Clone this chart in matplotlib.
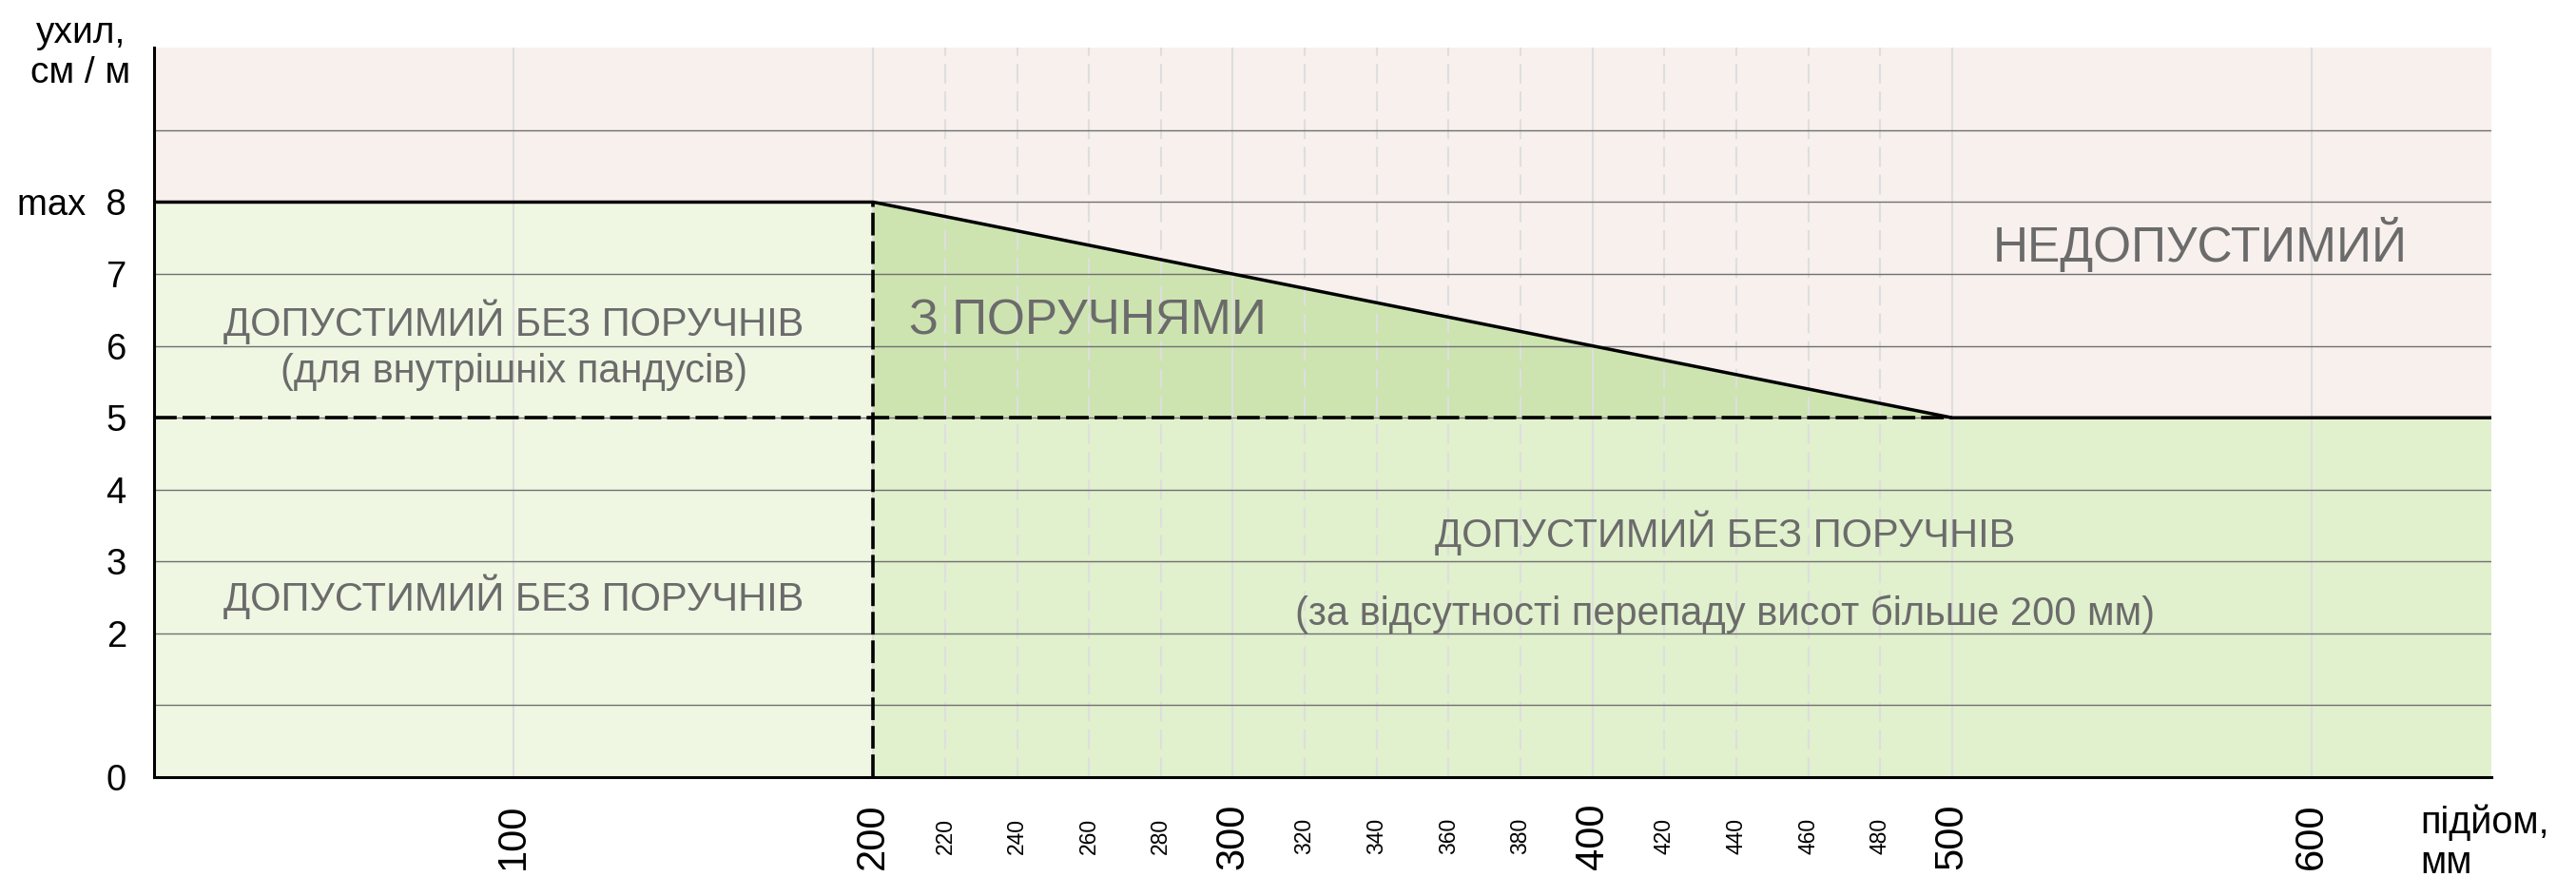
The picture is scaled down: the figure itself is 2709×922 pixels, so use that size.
import matplotlib

matplotlib.use("Agg")

import matplotlib.pyplot as plt

plt.rcParams["font.family"] = ["Liberation Sans", "DejaVu Sans"]

# limit line: max slope (cm/m) against rise (mm)
rise_mm = [0, 200, 500, 650]
max_slope = [8, 8, 5, 5]
base_slope = 5

y_grid = [1, 2, 3, 4, 5, 6, 7, 8, 9]
y_ticks = [0, 2, 3, 4, 5, 6, 7, 8]
y_labels = ["0", "2", "3", "4", "5", "6", "7", "max  8"]
x_major = [100, 200, 300, 400, 500, 600]
x_minor = [220, 240, 260, 280, 320, 340, 360, 380, 420, 440, 460, 480]

PINK = "#f7f0ed"
LIGHT_GREEN = "#eff7e3"
MID_GREEN = "#e1f0cd"
DARK_GREEN = "#cde4b1"
TEXT_GRAY = "#6b6b6b"

fig = plt.figure(figsize=(27.09, 9.22), dpi=100)
ax = fig.add_axes([162 / 2709, 105 / 922, 2458 / 2709, 767 / 922])
ax.set_facecolor(PINK)
ax.set_xlim(rise_mm[0], rise_mm[-1])
ax.set_ylim(0, 10.15)

# zones
ax.fill_between(rise_mm[:2], 0, max_slope[:2], color=LIGHT_GREEN, lw=0, zorder=0.2)
ax.fill_between([rise_mm[1], rise_mm[-1]], 0, base_slope, color=MID_GREEN, lw=0, zorder=0.2)
ax.fill_between(rise_mm[1:3], base_slope, max_slope[1:3], color=DARK_GREEN, lw=0, zorder=0.2)

# grid
ax.set_axisbelow(True)
ax.set_xticks(x_major)
ax.set_xticks(x_minor, minor=True)
ax.set_xticklabels([str(v) for v in x_major])
ax.set_xticklabels([str(v) for v in x_minor], minor=True)
ax.grid(axis="x", which="major", color="#dedede", lw=1.5)
ax.grid(axis="x", which="minor", color="#dedede", lw=1.5, linestyle=(0, (10, 4)))
for level in y_grid:
    ax.axhline(level, color="#707070", lw=1.0, zorder=0.6)

ax.set_yticks(y_ticks)
ax.set_yticklabels(y_labels)

# limits
ax.vlines(rise_mm[1], 0, max_slope[1], color="black", lw=2.6, linestyle=(0, (6.6, 1.7)), zorder=2.5)
ax.hlines(base_slope, 0, rise_mm[2], color="black", lw=2.6, linestyle=(0, (6.6, 1.7)), zorder=2.5)
ax.plot(rise_mm, max_slope, color="black", lw=2.5, zorder=3, solid_capstyle="butt")

for side in ("top", "right"):
    ax.spines[side].set_visible(False)
for side in ("left", "bottom"):
    ax.spines[side].set_linewidth(2.2)
    ax.spines[side].set_zorder(4)

ax.tick_params(axis="y", length=0, pad=21, labelsize=27.5)
ax.tick_params(axis="x", which="major", length=0, pad=44.6, labelsize=30, labelrotation=90)
ax.tick_params(axis="x", which="minor", length=0, pad=44.6, labelsize=16.5, labelrotation=90)
for lbl in ax.get_xticklabels(which="both"):
    lbl.set_verticalalignment("center")

# zone captions
kw = dict(color=TEXT_GRAY, va="baseline", zorder=5)
ax.text(100, 6.14, "ДОПУСТИМИЙ БЕЗ ПОРУЧНІВ", ha="center", fontsize=30, **kw)
ax.text(100, 5.49, "(для внутрішніх пандусів)", ha="center", fontsize=30, **kw)
ax.text(100, 2.31, "ДОПУСТИМИЙ БЕЗ ПОРУЧНІВ", ha="center", fontsize=30, **kw)
ax.text(210, 6.16, "З ПОРУЧНЯМИ", ha="left", fontsize=37, **kw)
ax.text(569, 7.17, "НЕДОПУСТИМИЙ", ha="center", fontsize=37, **kw)
ax.text(437, 3.20, "ДОПУСТИМИЙ БЕЗ ПОРУЧНІВ", ha="center", fontsize=30, **kw)
ax.text(437, 2.12, "(за відсутності перепаду висот більше 200 мм)", ha="center", fontsize=30, **kw)

# axis titles
fig.text(85 / 2709, 1 - 45 / 922, "ухил,", ha="center", va="baseline", fontsize=28)
fig.text(85 / 2709, 1 - 87 / 922, "см / м", ha="center", va="baseline", fontsize=28)
fig.text(2545 / 2709, 1 - 876 / 922, "підйом,", ha="left", va="baseline", fontsize=28.5)
fig.text(2545 / 2709, 1 - 918 / 922, "мм", ha="left", va="baseline", fontsize=28.5)

fig.savefig("out.png", dpi=100)
